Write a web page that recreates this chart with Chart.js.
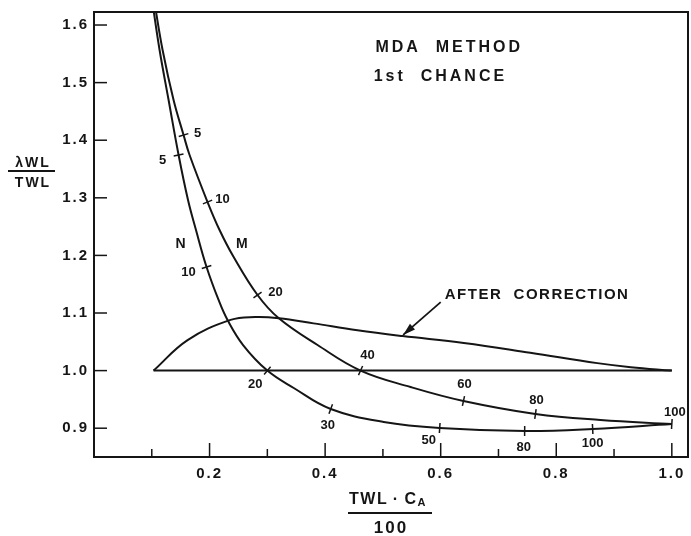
<!DOCTYPE html>
<html>
<head>
<meta charset="utf-8">
<script src="https://cdn.jsdelivr.net/npm/chart.js@4.4.0/dist/chart.umd.min.js"></script>
<style>
  html, body { margin: 0; padding: 0; background: #fff; }
  #wrap { width: 691px; height: 536px; }
</style>
</head>
<body>
<div id="wrap"><canvas id="chart" width="691" height="536"></canvas></div>
<script>
// Curve N (lower one at the right)
const nX = [0.101, 0.1135, 0.1291, 0.1464, 0.1627, 0.1765, 0.1948, 0.2156, 0.2311, 0.2580, 0.300, 0.3457, 0.4097, 0.5014, 0.5983, 0.7453, 0.8630, 1.000];
const nY = [1.640, 1.5566, 1.4698, 1.3743, 1.2962, 1.2441, 1.1799, 1.1226, 1.0878, 1.0444, 1.000, 0.9698, 0.9333, 0.9108, 0.9003, 0.8951, 0.8986, 0.9073];
const nMarks = ['', '', '', '5', '', '', '10', '', '', '', '20', '', '30', '', '50', '80', '100', ''];

// Curve M
const mX = [0.1045, 0.1187, 0.1377, 0.1550, 0.1654, 0.1965, 0.2173, 0.2407, 0.2830, 0.3194, 0.3869, 0.4613, 0.5478, 0.6394, 0.7640, 0.8765, 1.000];
const mY = [1.640, 1.5566, 1.4698, 1.4090, 1.3743, 1.2927, 1.2441, 1.1990, 1.1313, 1.0913, 1.0444, 1.000, 0.9715, 0.9472, 0.9247, 0.9142, 0.9073];
const mMarks = ['', '', '', '5', '', '10', '', '', '20', '', '', '40', '', '60', '80', '', '100'];

// "After correction" curve and the 1.0 base line
const acX = [0.103, 0.162, 0.2363, 0.279, 0.320, 0.380, 0.456, 0.534, 0.640, 0.755, 0.871, 0.929, 1.000];
const acY = [1.000, 1.053, 1.088, 1.093, 1.091, 1.082, 1.070, 1.060, 1.048, 1.031, 1.013, 1.006, 1.000];
const baseX = [0.103, 1.000];
const baseY = [1.000, 1.000];

// Axis ticks
const xTickLabels = [0.2, 0.4, 0.6, 0.8, 1.0];
const xMinorTicks = [0.1, 0.3, 0.5, 0.7, 0.9];
const yTickLabels = [0.9, 1.0, 1.1, 1.2, 1.3, 1.4, 1.5, 1.6];

const INK = '#151515';
const FONT = '"Liberation Sans", Arial, sans-serif';

const toPoints = (xs, ys) => xs.map((x, i) => ({ x, y: ys[i] }));
const near = (a, b) => Math.abs(a - b) < 1e-6;

// label offsets (px) from each tick mark on a curve
const nOffsets = { '5': [-16, 5], '10': [-18, 5], '20': [-12, 14], '30': [-3, 16], '50': [-11, 12], '80': [-1, 16], '100': [0, 14] };
const mOffsets = { '5': [14, -2], '10': [15, -3], '20': [18, -3], '40': [7, -15], '60': [1, -17], '80': [1, -14], '100': [3, -12] };

function line(ctx, x1, y1, x2, y2) {
  ctx.beginPath();
  ctx.moveTo(x1, y1);
  ctx.lineTo(x2, y2);
  ctx.stroke();
}

function spaced(ctx, text, x, y, spacing) {
  ctx.letterSpacing = spacing + 'px';
  ctx.fillText(text, x, y);
  ctx.letterSpacing = '0px';
}

// small cross ticks on a curve plus their numbers
function drawMarks(chart, idx, marks, offsets) {
  const { ctx } = chart;
  const pts = chart.getDatasetMeta(idx).data;
  ctx.lineWidth = 1.5;
  ctx.font = 'bold 13px ' + FONT;
  ctx.textAlign = 'center';
  ctx.textBaseline = 'middle';
  marks.forEach((label, i) => {
    if (!label) return;
    const p = pts[i];
    const a = pts[Math.max(i - 1, 0)];
    const b = pts[Math.min(i + 1, pts.length - 1)];
    let tx = b.x - a.x, ty = b.y - a.y;
    const len = Math.hypot(tx, ty) || 1;
    tx /= len; ty /= len;
    const nx = -ty * 5, ny = tx * 5;
    line(ctx, p.x - nx, p.y - ny, p.x + nx, p.y + ny);
    const off = offsets[label];
    ctx.fillText(label, p.x + off[0], p.y + off[1]);
  });
}

const inkPlugin = {
  id: 'ink',
  beforeDraw(chart) {
    // wide lettering for the axis numbers
    chart.ctx.letterSpacing = '2px';
  },
  afterDraw(chart) {
    const { ctx, chartArea: a, scales: { x, y } } = chart;
    ctx.letterSpacing = '0px';
    ctx.save();
    ctx.strokeStyle = INK;
    ctx.fillStyle = INK;

    // frame
    ctx.lineWidth = 2;
    ctx.strokeRect(a.left, a.top, a.right - a.left, a.bottom - a.top);

    // inward ticks
    ctx.lineWidth = 1.5;
    yTickLabels.forEach(v => {
      const py = y.getPixelForValue(v);
      line(ctx, a.left, py, a.left + 13, py);
    });
    xTickLabels.forEach(v => {
      const px = x.getPixelForValue(v);
      line(ctx, px, a.bottom, px, a.bottom - 14);
    });
    xMinorTicks.forEach(v => {
      const px = x.getPixelForValue(v);
      line(ctx, px, a.bottom, px, a.bottom - 8);
    });

    drawMarks(chart, 0, nMarks, nOffsets);
    drawMarks(chart, 1, mMarks, mOffsets);

    // curve names
    ctx.font = 'bold 14px ' + FONT;
    ctx.textAlign = 'center';
    ctx.textBaseline = 'middle';
    ctx.fillText('N', x.getPixelForValue(0.150), y.getPixelForValue(1.220));
    ctx.fillText('M', x.getPixelForValue(0.256), y.getPixelForValue(1.220));

    // heading
    ctx.font = 'bold 16px ' + FONT;
    ctx.textAlign = 'left';
    spaced(ctx, 'MDA  METHOD', x.getPixelForValue(0.487), y.getPixelForValue(1.560), 3);
    spaced(ctx, '1st  CHANCE', x.getPixelForValue(0.484), y.getPixelForValue(1.510), 3);

    // "after correction" note with arrow
    ctx.font = 'bold 15px ' + FONT;
    spaced(ctx, 'AFTER  CORRECTION', x.getPixelForValue(0.607), y.getPixelForValue(1.131), 1.5);
    const tailX = x.getPixelForValue(0.600), tailY = y.getPixelForValue(1.119);
    const tipX = x.getPixelForValue(0.535), tipY = y.getPixelForValue(1.062);
    ctx.lineWidth = 1.8;
    line(ctx, tailX, tailY, tipX, tipY);
    const ang = Math.atan2(tipY - tailY, tipX - tailX);
    ctx.beginPath();
    ctx.moveTo(tipX, tipY);
    ctx.lineTo(tipX - 13 * Math.cos(ang - 0.3), tipY - 13 * Math.sin(ang - 0.3));
    ctx.lineTo(tipX - 13 * Math.cos(ang + 0.3), tipY - 13 * Math.sin(ang + 0.3));
    ctx.closePath();
    ctx.fill();

    // y axis title as a fraction
    ctx.font = 'bold 14px ' + FONT;
    ctx.textAlign = 'center';
    spaced(ctx, '\u03BBWL', 33, 163, 2);
    ctx.lineWidth = 2;
    line(ctx, 8, 171, 55, 171);
    spaced(ctx, 'TWL', 33, 183, 2);

    // x axis title as a fraction
    ctx.font = 'bold 16px ' + FONT;
    ctx.textAlign = 'left';
    ctx.letterSpacing = '1.5px';
    const head = 'TWL\u2009\u00B7\u2009C';
    const w = ctx.measureText(head).width;
    ctx.fillText(head, 349, 500);
    ctx.letterSpacing = '0px';
    ctx.font = 'bold 11px ' + FONT;
    ctx.fillText('A', 349 + w, 503);
    line(ctx, 348, 513, 432, 513);
    ctx.font = 'bold 17px ' + FONT;
    ctx.textAlign = 'center';
    spaced(ctx, '100', 391, 528, 2);

    ctx.restore();
  }
};

const curve = (xs, ys, tension) => ({
  data: toPoints(xs, ys),
  showLine: true,
  borderColor: INK,
  borderWidth: 2,
  pointRadius: 0,
  tension,
  fill: false,
  clip: 0
});

new Chart(document.getElementById('chart'), {
  type: 'scatter',
  data: {
    datasets: [
      curve(nX, nY, 0.4),
      curve(mX, mY, 0.4),
      curve(acX, acY, 0.4),
      curve(baseX, baseY, 0)
    ]
  },
  options: {
    responsive: false,
    animation: false,
    devicePixelRatio: 1,
    layout: { padding: { top: 12, right: 3, left: 0, bottom: 0 } },
    plugins: { legend: { display: false }, tooltip: { enabled: false } },
    scales: {
      x: {
        type: 'linear',
        min: 0,
        max: 1.028,
        afterFit: s => { s.height = 79; s.paddingLeft = 0; s.paddingRight = 0; },
        grid: { display: false, drawTicks: false },
        border: { display: false },
        ticks: {
          stepSize: 0.1,
          includeBounds: false,
          autoSkip: false,
          maxRotation: 0,
          padding: 8,
          color: INK,
          font: { family: FONT, size: 15, weight: 'bold' },
          callback: v => xTickLabels.some(t => near(t, v)) ? v.toFixed(1) : ''
        }
      },
      y: {
        type: 'linear',
        min: 0.85,
        max: 1.6226,
        afterFit: s => { s.width = 94; s.paddingTop = 0; s.paddingBottom = 0; },
        grid: { display: false, drawTicks: false },
        border: { display: false },
        ticks: {
          stepSize: 0.1,
          includeBounds: false,
          autoSkip: false,
          padding: 5,
          color: INK,
          font: { family: FONT, size: 15, weight: 'bold' },
          callback: v => yTickLabels.some(t => near(t, v)) ? v.toFixed(1) : ''
        }
      }
    }
  },
  plugins: [inkPlugin]
});
</script>
</body>
</html>
